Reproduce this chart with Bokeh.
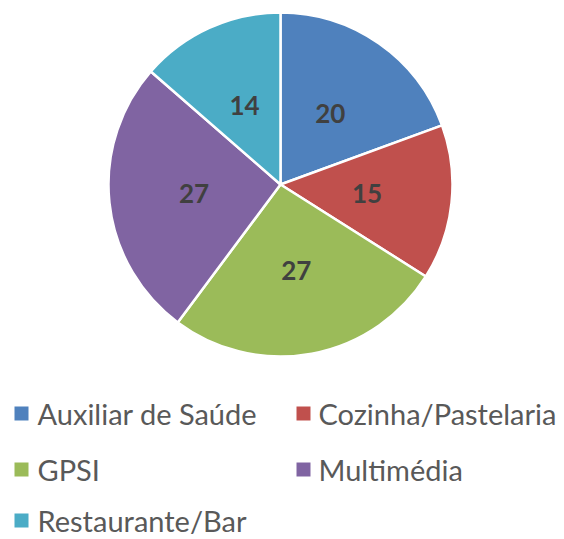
import math
from bokeh.plotting import figure
from bokeh.models import Range1d, ColumnDataSource
from bokeh.core.properties import value
from bokeh.embed import file_html
from bokeh.resources import INLINE

categories = ["Auxiliar de Saúde", "Cozinha/Pastelaria", "GPSI", "Multimédia", "Restaurante/Bar"]
values = [20, 15, 27, 27, 14]
colors = ["#4F81BD", "#C0504D", "#9BBB59", "#8064A2", "#4BACC6"]

W, H = 564, 539
p = figure(width=W, height=H, output_backend="svg", toolbar_location=None,
           x_range=Range1d(0, W), y_range=Range1d(0, H),
           min_border=0)
p.axis.visible = False
p.grid.visible = False
p.outline_line_color = None
p.background_fill_color = "white"

cx, cy, R = 280, 539 - 184, 172
total = sum(values)
starts, ends, lx, ly = [], [], [], []
cum = 0
for v in values:
    a0 = math.pi / 2 - 2 * math.pi * cum / total
    a1 = math.pi / 2 - 2 * math.pi * (cum + v) / total
    starts.append(a0)
    ends.append(a1)
    mid = (a0 + a1) / 2
    lx.append(cx + 87 * math.cos(mid))
    ly.append(cy + 87 * math.sin(mid))
    cum += v

src = ColumnDataSource(dict(start=starts, end=ends, color=colors,
                            lx=lx, ly=ly, lab=[str(v) for v in values]))
p.wedge(x=cx, y=cy, radius=R, start_angle="start", end_angle="end", direction="clock",
        fill_color="color", line_color="white", line_width=2.5, source=src)
p.text(x="lx", y="ly", text="lab", source=src, text_align="center", text_baseline="middle",
       text_font=value("Lato"), text_font_style="bold", text_font_size="26px",
       text_color="#404040")

# legend
col_sq = [21, 303]
col_tx = [37, 318]
rows = [413, 469, 520]
sx, sy, tx, ty = [], [], [], []
for i in range(len(categories)):
    r, c = divmod(i, 2)
    sx.append(col_sq[c]); sy.append(539 - rows[r])
    tx.append(col_tx[c]); ty.append(539 - rows[r])
lsrc = ColumnDataSource(dict(sx=sx, sy=sy, tx=tx, ty=ty, color=colors, name=categories))
p.scatter(x="sx", y="sy", marker="square", size=14, fill_color="color", line_color=None, source=lsrc)
p.text(x="tx", y="ty", text="name", source=lsrc, text_align="left", text_baseline="middle",
       text_font=value("Lato"), text_font_size="29px", text_color="#595959")

open("out.html", "w").write(file_html(p, INLINE))
